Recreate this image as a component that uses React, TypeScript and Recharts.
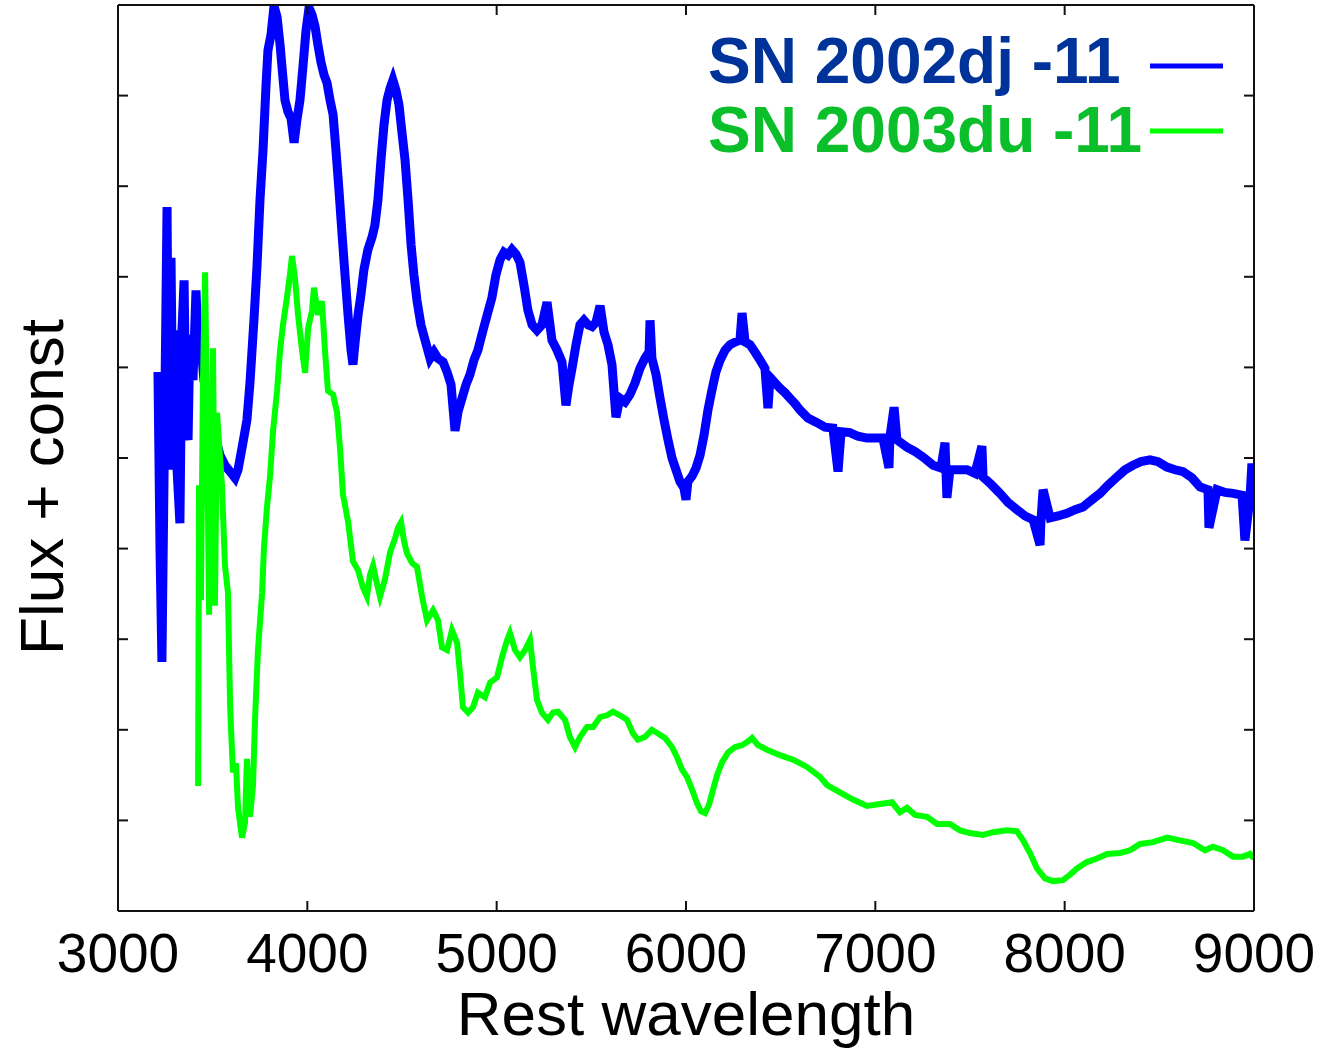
import { CartesianGrid, Legend, Line, LineChart, XAxis, YAxis } from "recharts";

// SN 2002dj, shifted by -11 (arbitrary flux units)
const sn2002djWavelength = [
	3211, 3222, 3232, 3243, 3259, 3269, 3280, 3290, 3301, 3312, 3327, 3338, 3349, 3359, 3370, 3380,
	3396, 3412, 3423, 3438, 3454, 3475, 3496, 3518, 3539, 3565, 3592, 3618, 3634, 3660, 3681, 3697,
	3718, 3734, 3750, 3766, 3782, 3792, 3808, 3824, 3840, 3856, 3866, 3882, 3898, 3914, 3930, 3945,
	3961, 3977, 3993, 4009, 4025, 4041, 4056, 4072, 4088, 4104, 4120, 4136, 4151, 4167, 4183, 4199,
	4215, 4231, 4241, 4252, 4268, 4283, 4299, 4320, 4342, 4357, 4373, 4389, 4405, 4421, 4437, 4452,
	4468, 4484, 4500, 4516, 4532, 4548, 4563, 4579, 4600, 4622, 4648, 4669, 4690, 4717, 4738, 4759,
	4780, 4796, 4817, 4838, 4859, 4880, 4901, 4928, 4954, 4975, 4996, 5018, 5039, 5060, 5081, 5102,
	5123, 5144, 5165, 5187, 5213, 5239, 5266, 5292, 5319, 5345, 5366, 5382, 5398, 5419, 5440, 5461,
	5482, 5504, 5525, 5546, 5567, 5588, 5609, 5630, 5651, 5678, 5704, 5731, 5757, 5783, 5805, 5810,
	5820, 5842, 5863, 5884, 5905, 5926, 5947, 5968, 5989, 6000, 6010, 6032, 6053, 6074, 6095, 6116,
	6137, 6158, 6180, 6206, 6232, 6259, 6285, 6296, 6312, 6338, 6364, 6391, 6417, 6433, 6444, 6470,
	6497, 6523, 6549, 6576, 6602, 6644, 6692, 6734, 6776, 6803, 6819, 6866, 6908, 6956, 6998, 7040,
	7072, 7077, 7099, 7114, 7167, 7210, 7252, 7305, 7347, 7368, 7378, 7394, 7437, 7484, 7526, 7563,
	7569, 7611, 7658, 7701, 7748, 7791, 7833, 7870, 7875, 7886, 7923, 7965, 8012, 8055, 8097, 8144,
	8187, 8229, 8276, 8319, 8361, 8403, 8451, 8493, 8540, 8583, 8625, 8673, 8715, 8757, 8762, 8805,
	8847, 8889, 8937, 8952, 8979, 8989, 9000,
];
const sn2002djFlux = [
	5.95, 3.98, 2.75, 4.76, 7.77, 4.87, 7.21, 5.2, 6.41, 4.87, 4.28, 6.41, 6.96, 5.31, 5.2, 6.36,
	5.86, 6.85, 6.19, 6.25, 5.86, 5.59, 5.42, 5.2, 5.03, 4.92, 4.85, 4.78, 4.87, 5.17, 5.42, 5.83,
	6.52, 7.11, 7.85, 8.4, 9.12, 9.5, 9.67, 9.99, 9.87, 9.56, 9.32, 8.95, 8.82, 8.75, 8.48, 8.73,
	8.95, 9.32, 9.72, 9.97, 9.89, 9.76, 9.56, 9.37, 9.23, 9.14, 8.95, 8.79, 8.4, 7.96, 7.48, 7.02,
	6.58, 6.19, 6.03, 6.27, 6.58, 6.8, 7.08, 7.3, 7.44, 7.57, 7.85, 8.29, 8.68, 8.95, 9.08, 9.17,
	9.06, 8.9, 8.59, 8.29, 7.85, 7.35, 7.02, 6.74, 6.47, 6.3, 6.1, 6.17, 6.1, 6.06, 5.95, 5.81,
	5.3, 5.51, 5.66, 5.81, 5.92, 6.08, 6.19, 6.41, 6.61, 6.77, 7.02, 7.19, 7.27, 7.24, 7.3, 7.25,
	7.16, 6.91, 6.63, 6.47, 6.41, 6.47, 6.72, 6.3, 6.19, 6.06, 5.58, 5.81, 5.99, 6.25, 6.47, 6.52,
	6.47, 6.45, 6.5, 6.68, 6.39, 6.25, 6.03, 5.45, 5.66, 5.62, 5.7, 5.83, 5.99, 6.1, 6.17, 6.52,
	6.1, 5.92, 5.66, 5.42, 5.2, 5.0, 4.87, 4.74, 4.67, 4.54, 4.74, 4.8, 4.89, 5.03, 5.25, 5.53,
	5.75, 5.95, 6.08, 6.19, 6.25, 6.28, 6.3, 6.6, 6.28, 6.25, 6.17, 6.08, 5.99, 5.55, 5.89, 5.83,
	5.77, 5.72, 5.66, 5.6, 5.53, 5.44, 5.39, 5.34, 5.33, 4.85, 5.29, 5.28, 5.24, 5.22, 5.22, 5.22,
	4.89, 5.23, 5.56, 5.2, 5.12, 5.07, 5.01, 4.92, 4.89, 5.17, 4.56, 4.87, 4.87, 4.87, 4.83, 5.13,
	4.79, 4.71, 4.61, 4.51, 4.43, 4.36, 4.32, 4.04, 4.32, 4.65, 4.34, 4.36, 4.39, 4.43, 4.46, 4.54,
	4.61, 4.7, 4.79, 4.87, 4.92, 4.96, 4.98, 4.96, 4.9, 4.87, 4.85, 4.78, 4.68, 4.65, 4.23, 4.65,
	4.62, 4.61, 4.59, 4.09, 4.57, 4.94, 4.56,
];

// SN 2003du, shifted by -11
const sn2003duWavelength = [
	3423, 3428, 3438, 3449, 3460, 3470, 3481, 3491, 3502, 3512, 3523, 3549, 3565, 3581, 3592, 3607,
	3623, 3634, 3655, 3671, 3681, 3697, 3713, 3724, 3739, 3761, 3771, 3787, 3803, 3819, 3840, 3856,
	3872, 3893, 3908, 3919, 3935, 3951, 3972, 3988, 4004, 4025, 4035, 4056, 4077, 4093, 4109, 4136,
	4157, 4173, 4188, 4215, 4241, 4268, 4294, 4315, 4331, 4347, 4368, 4384, 4410, 4437, 4463, 4479,
	4495, 4510, 4526, 4553, 4579, 4606, 4632, 4664, 4690, 4711, 4738, 4764, 4791, 4806, 4822, 4849,
	4875, 4901, 4938, 4965, 5002, 5028, 5055, 5070, 5097, 5123, 5150, 5176, 5192, 5213, 5239, 5271,
	5298, 5324, 5361, 5387, 5414, 5440, 5477, 5509, 5546, 5583, 5614, 5651, 5688, 5720, 5746, 5783,
	5820, 5852, 5889, 5926, 5952, 5979, 6005, 6032, 6058, 6079, 6100, 6121, 6143, 6164, 6190, 6222,
	6259, 6296, 6327, 6349, 6380, 6428, 6496, 6565, 6639, 6708, 6745, 6813, 6882, 6956, 7025, 7088,
	7130, 7167, 7210, 7273, 7326, 7394, 7447, 7500, 7569, 7622, 7696, 7748, 7780, 7817, 7854, 7896,
	7938, 7991, 8028, 8065, 8118, 8171, 8224, 8292, 8345, 8398, 8467, 8541, 8609, 8678, 8741, 8783,
	8836, 8889, 8942, 8979, 9000,
];
const sn2003duFlux = [
	1.38, 4.7, 3.43, 5.86, 7.05, 5.42, 3.27, 4.54, 6.21, 3.37, 5.5, 4.7, 3.81, 3.51, 2.27, 1.53,
	1.63, 1.14, 0.81, 0.98, 1.68, 1.04, 1.38, 2.13, 2.87, 3.51, 4.01, 4.46, 4.8, 5.3, 5.74, 6.19,
	6.48, 6.78, 7.02, 7.23, 6.98, 6.58, 6.19, 5.94, 6.43, 6.63, 6.88, 6.58, 6.73, 6.19, 5.74, 5.7,
	5.5, 5.1, 4.6, 4.3, 3.86, 3.76, 3.57, 3.47, 3.71, 3.81, 3.61, 3.47, 3.66, 3.96, 4.11, 4.23,
	4.29, 4.09, 3.95, 3.84, 3.8, 3.47, 3.21, 3.32, 3.21, 2.91, 2.88, 3.1, 2.96, 2.63, 2.25, 2.19,
	2.25, 2.41, 2.36, 2.52, 2.58, 2.8, 2.99, 3.07, 2.88, 2.8, 2.88, 2.99, 2.69, 2.33, 2.19, 2.11,
	2.19, 2.2, 2.11, 1.92, 1.81, 1.92, 2.03, 2.03, 2.14, 2.16, 2.2, 2.16, 2.11, 1.96, 1.89, 1.92,
	2.0, 1.96, 1.91, 1.81, 1.7, 1.56, 1.48, 1.34, 1.19, 1.1, 1.08, 1.17, 1.34, 1.5, 1.64, 1.75,
	1.81, 1.83, 1.87, 1.91, 1.83, 1.78, 1.72, 1.67, 1.59, 1.48, 1.39, 1.31, 1.23, 1.16, 1.18, 1.2,
	1.09, 1.14, 1.06, 1.04, 0.96, 0.96, 0.89, 0.86, 0.84, 0.87, 0.89, 0.88, 0.78, 0.64, 0.47, 0.36,
	0.33, 0.34, 0.4, 0.47, 0.54, 0.58, 0.63, 0.64, 0.67, 0.74, 0.76, 0.81, 0.78, 0.75, 0.67, 0.71,
	0.67, 0.6, 0.6, 0.63, 0.58,
];

const wavelengthTicks = [3000, 4000, 5000, 6000, 7000, 8000, 9000];
const innerWavelengthTicks = [4000, 5000, 6000, 7000, 8000];
const fluxTicks = [1, 2, 3, 4, 5, 6, 7, 8, 9];

const sn2002dj = sn2002djWavelength.map((w, i) => ({ wavelength: w, flux: sn2002djFlux[i] }));
const sn2003du = sn2003duWavelength.map((w, i) => ({ wavelength: w, flux: sn2003duFlux[i] }));

const legendTextColors = ["#003399", "#0bbf2a"];
const frame = { stroke: "#111", strokeWidth: 2 };

// tick marks only, no label (tick={false} would drop the marks too)
const NoLabel = () => <g />;

function LegendBox({ payload }: any) {
	return (
		<svg width={560} height={170}>
			{(payload ?? []).map((entry: any, i: number) => (
				<g key={entry.value}>
					<text
						x={8}
						y={83 + i * 69}
						fontSize={64}
						fontWeight="bold"
						fill={legendTextColors[i]}
					>
						{entry.value}
					</text>
					<line
						x1={450}
						x2={523}
						y1={66 + i * 65}
						y2={66 + i * 65}
						stroke={entry.color}
						strokeWidth={5}
					/>
				</g>
			))}
		</svg>
	);
}

function FluxTitle({ viewBox }: any) {
	const x = viewBox.x + 63;
	const y = viewBox.y + viewBox.height / 2 + 29;
	return (
		<text
			x={x}
			y={y}
			transform={`rotate(-90, ${x}, ${y})`}
			textAnchor="middle"
			fontSize={62}
			fill="#000"
		>
			Flux + const
		</text>
	);
}

export default function App() {
	return (
		<div
			style={{
				position: "absolute",
				left: 0,
				top: 0,
				width: 1330,
				height: 1050,
				background: "#fff",
				fontFamily: "'Liberation Sans', Arial, sans-serif",
			}}
		>
			<LineChart width={1330} height={1050} margin={{ top: 4, right: 75, bottom: 0, left: 0 }}>
				<CartesianGrid stroke="none" />
				<XAxis
					dataKey="wavelength"
					type="number"
					domain={[3000, 9000]}
					allowDataOverflow
					ticks={wavelengthTicks}
					interval={0}
					height={139}
					axisLine={frame}
					tickLine={frame}
					tickSize={-10}
					tickMargin={32}
					tick={{ fill: "#000", fontSize: 55 }}
					label={{ value: "Rest wavelength", position: "insideBottom", offset: 15, fontSize: 62, fill: "#000" }}
				/>
				<XAxis
					xAxisId="top"
					orientation="top"
					dataKey="wavelength"
					type="number"
					domain={[3000, 9000]}
					allowDataOverflow
					ticks={innerWavelengthTicks}
					interval={0}
					height={1}
					axisLine={frame}
					tickLine={frame}
					tickSize={-10}
					tick={NoLabel}
				/>
				<YAxis
					type="number"
					domain={[0, 10]}
					allowDataOverflow
					ticks={fluxTicks}
					interval={0}
					width={118}
					axisLine={frame}
					tickLine={frame}
					tickSize={-10}
					tick={NoLabel}
					label={<FluxTitle />}
				/>
				<YAxis
					yAxisId="right"
					orientation="right"
					type="number"
					domain={[0, 10]}
					allowDataOverflow
					ticks={fluxTicks}
					interval={0}
					width={1}
					axisLine={frame}
					tickLine={frame}
					tickSize={-10}
					tick={NoLabel}
				/>
				<Line
					data={sn2002dj}
					dataKey="flux"
					name="SN 2002dj -11"
					stroke="#0000ff"
					strokeWidth={9}
					dot={false}
					activeDot={false}
					isAnimationActive={false}
				/>
				<Line
					data={sn2003du}
					dataKey="flux"
					name="SN 2003du -11"
					stroke="#00ff00"
					strokeWidth={6}
					dot={false}
					activeDot={false}
					isAnimationActive={false}
				/>
				<Legend
					layout="vertical"
					align="center"
					verticalAlign="middle"
					content={<LegendBox />}
					wrapperStyle={{ left: 700, top: 0, width: 560, height: 170 }}
				/>
			</LineChart>
		</div>
	);
}
